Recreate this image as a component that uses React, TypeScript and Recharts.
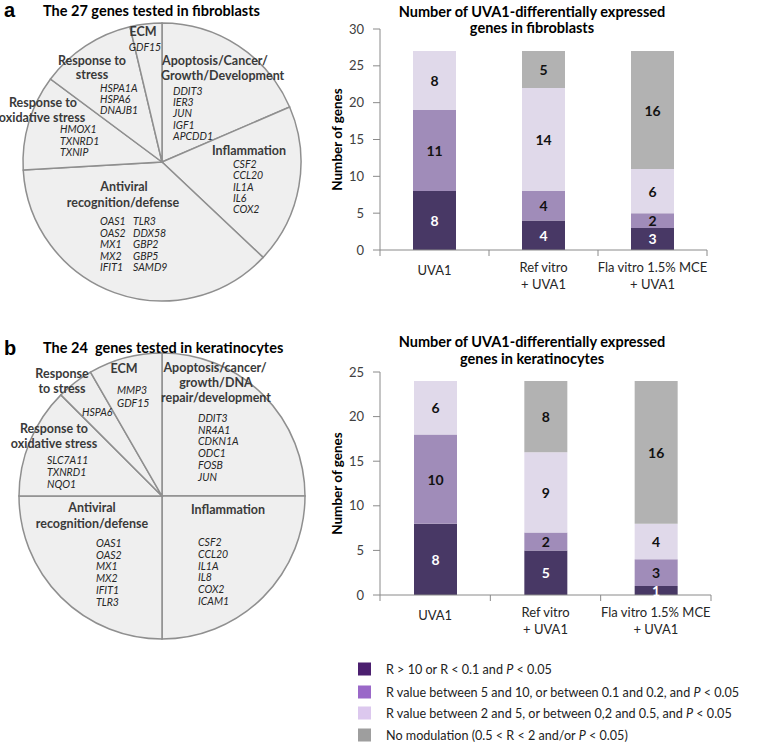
import React from 'react';
import { PieChart, Pie, BarChart, Bar, XAxis, YAxis, LabelList } from 'recharts';

const FONT = 'Lato, "Open Sans", sans-serif';

// ---------- Data ----------
const groups = ['UVA1', 'Ref vitro\n+ UVA1', 'Fla vitro 1.5% MCE\n+ UVA1'];

const fibroStrong = [8, 4, 3];
const fibroMedium = [11, 4, 2];
const fibroWeak = [8, 14, 6];
const fibroNone = [0, 5, 16];
const fibroTicks = [0, 5, 10, 15, 20, 25, 30];

const keratStrong = [8, 5, 1];
const keratMedium = [10, 2, 3];
const keratWeak = [6, 9, 4];
const keratNone = [0, 8, 16];
const keratTicks = [0, 5, 10, 15, 20, 25];

const fibroCategories = ['Apoptosis/Cancer/Growth/Development', 'Inflammation', 'Antiviral recognition/defense', 'Response to oxidative stress', 'Response to stress', 'ECM'];
const fibroGeneCounts = [5, 5, 10, 3, 3, 1];
const keratCategories = ['Apoptosis/cancer/growth/DNA repair/development', 'Inflammation', 'Antiviral recognition/defense', 'Response to oxidative stress', 'Response to stress', 'ECM'];
const keratGeneCounts = [6, 6, 6, 3, 1, 2];

const legendLabels = [
  ['R > 10 or R < 0.1 and ', 'P', ' < 0.05'],
  ['R value between 5 and 10, or between 0.1 and 0.2, and ', 'P', ' < 0.05'],
  ['R value between 2 and 5, or between 0,2 and 0.5, and ', 'P', ' < 0.05'],
  ['No modulation (0.5 < R < 2 and/or ', 'P', ' < 0.05)'],
];

const BAR_COLORS = { strong: '#483865', medium: '#a08cb9', weak: '#e0d9ea', none: '#b2b2b2' };
const LEGEND_COLORS = ['#4b1f6f', '#9a68c8', '#dcc8ee', '#9e9e9e'];

const fibroData = groups.map((g, i) => ({ group: g, strong: fibroStrong[i], medium: fibroMedium[i], weak: fibroWeak[i], none: fibroNone[i] }));
const keratData = groups.map((g, i) => ({ group: g, strong: keratStrong[i], medium: keratMedium[i], weak: keratWeak[i], none: keratNone[i] }));
const fibroPie = fibroCategories.map((c, i) => ({ name: c, count: fibroGeneCounts[i] }));
const keratPie = keratCategories.map((c, i) => ({ name: c, count: keratGeneCounts[i] }));

// ---------- Helpers ----------
const AXIS_GREY = '#8a8a8a';

const makeLabel = (color: string, weight: string) => (props: any) => {
  const { x, y, width, height, value } = props;
  if (!value) return null;
  return (
    <text x={x + width / 2} y={y + height / 2} textAnchor="middle" dominantBaseline="central"
      fontFamily={FONT} fontSize={14} fontWeight={weight} fill={color}>{value}</text>
  );
};

const makeXTick = (bandHalf: number) => (props: any) => {
  const { x, y, payload, index } = props;
  const lines = String(payload.value).split('\n');
  return (
    <g>
      {index === 0 && <line x1={x - bandHalf} x2={x - bandHalf} y1={y} y2={y + 6} stroke={AXIS_GREY} />}
      <line x1={x + bandHalf} x2={x + bandHalf} y1={y} y2={y + 6} stroke={AXIS_GREY} />
      {lines.map((l, i) => (
        <text key={i} x={x} y={y + (lines.length === 1 ? 20 : 17 + i * 17)} textAnchor="middle" dominantBaseline="central"
          fontFamily={FONT} fontSize={13} fill="#262626">{l}</text>
      ))}
    </g>
  );
};

function StackedChart({ data, ticks, width, height, margin }: any) {
  const yw = 90;
  const bandHalf = (width - margin.left - margin.right - yw) / (2 * data.length);
  return (
    <BarChart width={width} height={height} data={data} margin={margin} barSize={43}>
      <XAxis dataKey="group" interval={0} height={50} tickLine={false} tickSize={0} tickMargin={0}
        axisLine={{ stroke: AXIS_GREY }} tick={makeXTick(bandHalf)} />
      <YAxis width={yw} domain={[0, ticks[ticks.length - 1]]} ticks={ticks} interval={0} tickSize={7} tickMargin={9}
        axisLine={{ stroke: AXIS_GREY }} tickLine={{ stroke: AXIS_GREY }}
        tick={{ fill: '#404040', fontSize: 13, fontFamily: FONT }} />
      <Bar dataKey="strong" stackId="s" fill={BAR_COLORS.strong} isAnimationActive={false}>
        <LabelList dataKey="strong" content={makeLabel('#ffffff', 'bold')} />
      </Bar>
      <Bar dataKey="medium" stackId="s" fill={BAR_COLORS.medium} isAnimationActive={false}>
        <LabelList dataKey="medium" content={makeLabel('#111111', 'bold')} />
      </Bar>
      <Bar dataKey="weak" stackId="s" fill={BAR_COLORS.weak} isAnimationActive={false}>
        <LabelList dataKey="weak" content={makeLabel('#111111', 'bold')} />
      </Bar>
      <Bar dataKey="none" stackId="s" fill={BAR_COLORS.none} isAnimationActive={false}>
        <LabelList dataKey="none" content={makeLabel('#111111', 'bold')} />
      </Bar>
    </BarChart>
  );
}

function Cat({ x, y, children, anchor = 'middle' }: any) {
  return <text x={x} y={y} textAnchor={anchor} dominantBaseline="central" fontFamily={FONT} fontSize={12.5}
    fontWeight="bold" fill="#3a3a3a">{children}</text>;
}

function Genes({ x, y0, step, names, anchor = 'start' }: any) {
  return (
    <g>
      {names.map((n: string, i: number) => (
        <text key={n} x={x} y={y0 + i * step} textAnchor={anchor} dominantBaseline="central" fontFamily={FONT}
          fontSize={10.5} fontStyle="italic" fill="#262626">{n}</text>
      ))}
    </g>
  );
}

function Overlay() {
  return (
    <svg width={759} height={743} style={{ position: 'absolute', left: 0, top: 0, pointerEvents: 'none' }}>
      {/* panel a */}
      <text x={4} y={17} fontFamily='"Liberation Sans", Arial, sans-serif' fontWeight="bold" fontSize={20} fill="#000">a</text>
      <text x={43} y={16} fontFamily={FONT} fontWeight="bold" fontSize={14.5} fill="#000">The 27 genes tested in fibroblasts</text>
      <text x={532} y={17} textAnchor="middle" fontFamily={FONT} fontWeight="bold" fontSize={14.5} fill="#000">Number of UVA1-differentially expressed</text>
      <text x={532} y={33} textAnchor="middle" fontFamily={FONT} fontWeight="bold" fontSize={14.5} fill="#000">genes in fibroblasts</text>
      <text transform="translate(337,139.5) rotate(-90)" textAnchor="middle" dominantBaseline="central" fontFamily={FONT}
        fontWeight="bold" fontSize={13.5} fill="#000">Number of genes</text>

      <Cat x={143} y={31}>ECM</Cat>
      <Genes x={145} y0={47} step={11.5} names={['GDF15']} anchor="middle" />
      <Cat x={162} y={60} anchor="start">Apoptosis/Cancer/</Cat>
      <Cat x={161} y={75} anchor="start">Growth/Development</Cat>
      <Genes x={173} y0={91} step={11.2} names={['DDIT3', 'IER3', 'JUN', 'IGF1', 'APCDD1']} />
      <Cat x={92} y={60}>Response to</Cat>
      <Cat x={92} y={74}>stress</Cat>
      <Genes x={100} y0={88} step={11} names={['HSPA1A', 'HSPA6', 'DNAJB1']} />
      <Cat x={43} y={102}>Response to</Cat>
      <Cat x={42} y={117}>oxidative stress</Cat>
      <Genes x={60} y0={129} step={11.5} names={['HMOX1', 'TXNRD1', 'TXNIP']} />
      <Cat x={249} y={150}>Inflammation</Cat>
      <Genes x={233} y0={164} step={11.3} names={['CSF2', 'CCL20', 'IL1A', 'IL6', 'COX2']} />
      <Cat x={124} y={186}>Antiviral</Cat>
      <Cat x={123} y={202}>recognition/defense</Cat>
      <Genes x={100} y0={221} step={11.5} names={['OAS1', 'OAS2', 'MX1', 'MX2', 'IFIT1']} />
      <Genes x={133} y0={221} step={11.5} names={['TLR3', 'DDX58', 'GBP2', 'GBP5', 'SAMD9']} />

      {/* panel b */}
      <text x={4} y={355} fontFamily='"Liberation Sans", Arial, sans-serif' fontWeight="bold" fontSize={20} fill="#000">b</text>
      <text x={43} y={353} fontFamily={FONT} fontWeight="bold" fontSize={14.5} fill="#000" style={{ whiteSpace: 'pre' }}>The 24  genes tested in keratinocytes</text>
      <text x={532} y={347} textAnchor="middle" fontFamily={FONT} fontWeight="bold" fontSize={14.5} fill="#000">Number of UVA1-differentially expressed</text>
      <text x={532} y={364} textAnchor="middle" fontFamily={FONT} fontWeight="bold" fontSize={14.5} fill="#000">genes in keratinocytes</text>
      <text transform="translate(337,483.5) rotate(-90)" textAnchor="middle" dominantBaseline="central" fontFamily={FONT}
        fontWeight="bold" fontSize={13.5} fill="#000">Number of genes</text>

      <Cat x={62} y={373}>Response</Cat>
      <Cat x={62} y={388}>to stress</Cat>
      <Cat x={124} y={368}>ECM</Cat>
      <Genes x={117} y0={390} step={12.5} names={['MMP3', 'GDF15']} />
      <Genes x={82} y0={412} step={12} names={['HSPA6']} />
      <Cat x={215} y={367}>Apoptosis/cancer/</Cat>
      <Cat x={216} y={382}>growth/DNA</Cat>
      <Cat x={216} y={397}>repair/development</Cat>
      <Genes x={198} y0={418} step={11.7} names={['DDIT3', 'NR4A1', 'CDKN1A', 'ODC1', 'FOSB', 'JUN']} />
      <Cat x={54} y={428}>Response to</Cat>
      <Cat x={54} y={443}>oxidative stress</Cat>
      <Genes x={47} y0={460} step={11.8} names={['SLC7A11', 'TXNRD1', 'NQO1']} />
      <Cat x={92} y={507}>Antiviral</Cat>
      <Cat x={92} y={523}>recognition/defense</Cat>
      <Genes x={96} y0={543} step={11.7} names={['OAS1', 'OAS2', 'MX1', 'MX2', 'IFIT1', 'TLR3']} />
      <Cat x={228} y={509}>Inflammation</Cat>
      <Genes x={198} y0={542} step={11.8} names={['CSF2', 'CCL20', 'IL1A', 'IL8', 'COX2', 'ICAM1']} />

      {/* legend */}
      {legendLabels.map((parts, i) => {
        const cy = [669, 692, 713, 735][i];
        return (
          <g key={i}>
            <rect x={358} y={cy - 6.5} width={13} height={13} fill={LEGEND_COLORS[i]} />
            <text x={386} y={cy} dominantBaseline="central" fontFamily={FONT} fontSize={12.6} fill="#222" style={{ whiteSpace: 'pre' }}>
              {parts[0]}<tspan fontStyle="italic">{parts[1]}</tspan>{parts[2]}
            </text>
          </g>
        );
      })}
    </svg>
  );
}

export default function App() {
  return (
    <div style={{ position: 'absolute', left: 0, top: 0, width: 759, height: 743, background: '#fff', fontFamily: FONT }}>
      <div style={{ position: 'absolute', left: 0, top: 0 }}>
        <PieChart width={320} height={310}>
          <Pie data={fibroPie} dataKey="count" nameKey="name" cx={157} cy={157} outerRadius={139} startAngle={90} endAngle={-270}
            fill="#efefef" stroke="#8f8f8f" strokeWidth={1.5} isAnimationActive={false} />
        </PieChart>
      </div>
      <div style={{ position: 'absolute', left: 0, top: 330 }}>
        <PieChart width={320} height={320}>
          <Pie data={keratPie} dataKey="count" nameKey="name" cx={157} cy={161} outerRadius={143} startAngle={90} endAngle={-270}
            fill="#efefef" stroke="#8f8f8f" strokeWidth={1.5} isAnimationActive={false} />
        </PieChart>
      </div>
      <div style={{ position: 'absolute', left: 290, top: 0 }}>
        <StackedChart data={fibroData} ticks={fibroTicks} width={469} height={300} margin={{ top: 29, right: 52, bottom: 0, left: 0 }} />
      </div>
      <div style={{ position: 'absolute', left: 290, top: 340 }}>
        <StackedChart data={keratData} ticks={keratTicks} width={469} height={305} margin={{ top: 32, right: 48, bottom: 0, left: 0 }} />
      </div>
      <Overlay />
    </div>
  );
}
